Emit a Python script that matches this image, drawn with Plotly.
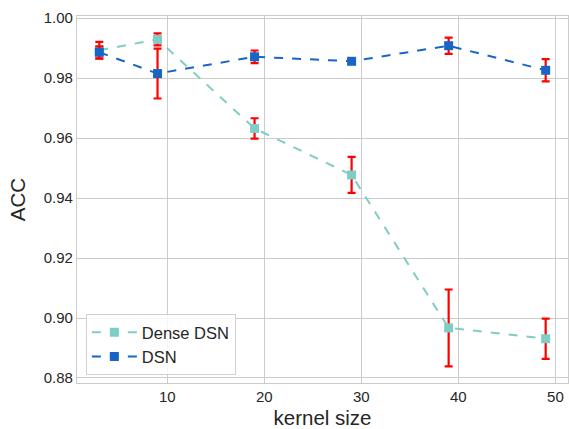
import plotly.graph_objects as go

kernel_size = [3, 9, 19, 29, 39, 49]
dense_acc = [0.9893, 0.9929, 0.9632, 0.9477, 0.8967, 0.8931]
dense_err = [0.0028, 0.0020, 0.0034, 0.0060, 0.0128, 0.0067]
dsn_acc = [0.9886, 0.9815, 0.9871, 0.9856, 0.9908, 0.9826]
dsn_err = [0.0020, 0.0083, 0.0021, 0.0005, 0.0027, 0.0037]
y_ticks = [0.88, 0.90, 0.92, 0.94, 0.96, 0.98, 1.00]
x_ticks = [10, 20, 30, 40, 50]

fig = go.Figure()
series = [
    ("Dense DSN", dense_acc, dense_err, "#7fcdc4"),
    ("DSN", dsn_acc, dsn_err, "#1865c6"),
]
for name, acc, err, col in series:
    fig.add_trace(go.Scatter(
        x=kernel_size, y=acc, name=name, mode="lines+markers",
        line=dict(color=col, width=2, dash="dash"),
        marker=dict(symbol="square", size=9, color=col),
        error_y=dict(type="data", array=err, visible=True, color="#ff0000",
                     thickness=2.2, width=4),
    ))

font = "Liberation Sans, Arial, sans-serif"
fig.update_layout(
    width=569, height=429,
    margin=dict(l=77, r=1, t=16, b=46),
    paper_bgcolor="white", plot_bgcolor="white",
    font=dict(family=font, size=15, color="#262626"),
    showlegend=True,
    legend=dict(x=0.018, y=0.022, xanchor="left", yanchor="bottom",
                bgcolor="rgba(255,255,255,0.8)", bordercolor="#d0d0d0", borderwidth=1,
                font=dict(size=16.5, color="#262626"), itemwidth=45,
                tracegroupgap=2),
)
fig.update_xaxes(
    range=[0.7, 51.3], tickvals=x_ticks, showgrid=True, gridcolor="#cccccc", gridwidth=1,
    showline=True, linecolor="#cccccc", linewidth=1.2, mirror=True, zeroline=False,
    ticks="", tickfont=dict(size=15), title=dict(text="kernel size", font=dict(size=20.5), standoff=9),
)
fig.update_yaxes(
    range=[0.87833, 1.0007], tickvals=y_ticks, tickformat=".2f", showgrid=True,
    gridcolor="#cccccc", gridwidth=1,
    showline=True, linecolor="#cccccc", linewidth=1.2, mirror=True, zeroline=False,
    ticks="", tickfont=dict(size=15), title=dict(text="ACC", font=dict(size=20.5), standoff=12),
)
fig.write_html("out.html", config={"displayModeBar": False},
               post_script="document.body.style.margin='0';document.body.style.overflow='hidden';")
